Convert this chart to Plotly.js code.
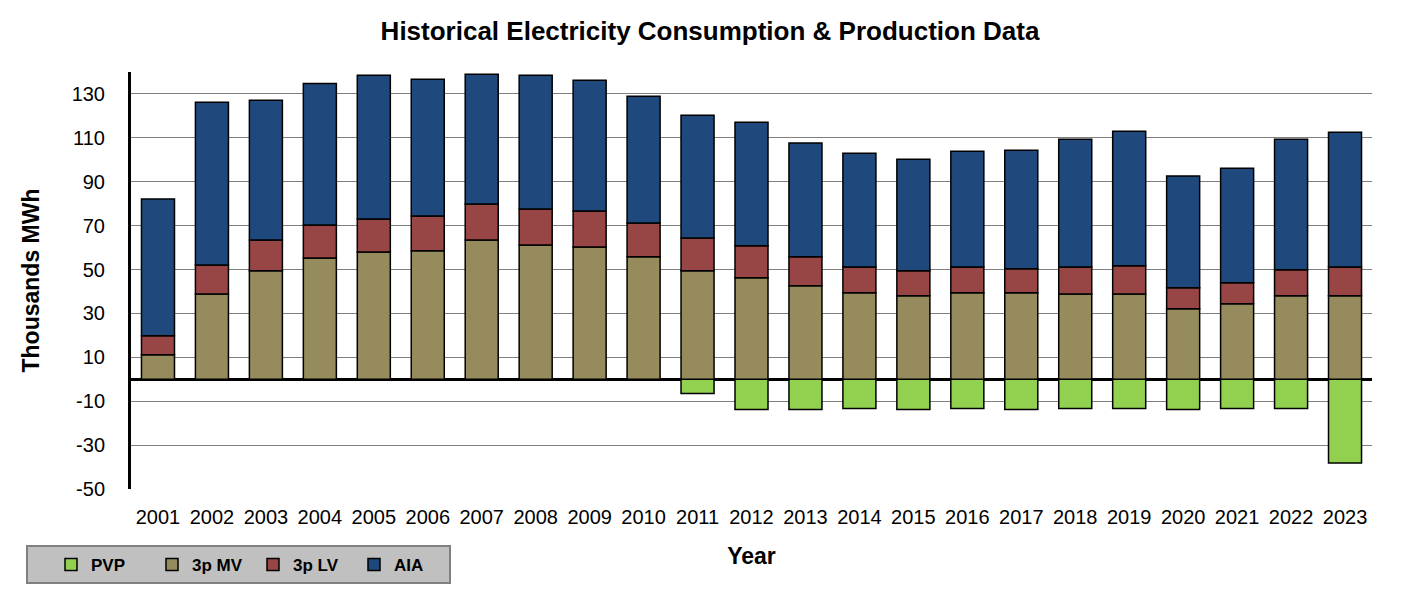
<!DOCTYPE html>
<html>
<head>
<meta charset="utf-8">
<script src="https://cdn.plot.ly/plotly-3.0.1.min.js"></script>
<style>html,body{margin:0;padding:0;background:#fff;}#chart{width:1420px;height:596px;}</style>
</head>
<body>
<div id="chart"></div>
<script>
const years = ["2001","2002","2003","2004","2005","2006","2007","2008","2009","2010","2011","2012","2013","2014","2015","2016","2017","2018","2019","2020","2021","2022","2023"];
const pvp = [null,null,null,null,null,null,null,null,null,null,-6.5,-13.8,-13.8,-13.3,-13.8,-13.3,-13.8,-13.3,-13.3,-13.8,-13.3,-13.3,-38.2];
const mv3p = [11.2,38.9,49.4,55.3,58.0,58.5,63.5,61.2,60.3,55.8,49.4,46.2,42.6,39.4,38.0,39.4,39.4,38.9,38.9,32.1,34.4,38.0,38.0];
const lv3p = [8.6,13.2,14.1,15.0,15.0,15.9,16.4,16.4,16.4,15.4,15.0,14.6,13.2,11.8,11.4,11.8,10.9,12.3,12.8,9.6,9.6,11.9,13.2];
const aia = [62.3,74.1,63.6,64.5,65.5,62.3,59.1,60.9,59.5,57.8,55.9,56.3,51.8,51.8,50.9,52.7,54.1,58.2,61.3,50.9,52.2,59.5,61.4];
const yTicks = [-50,-30,-10,10,30,50,70,90,110,130];

const line = {color:'#000000', width:1.5};
function bar(name, y, color){
  return {type:'bar', name:name, x:years, y:y, marker:{color:color, line:line}};
}
const data = [
  bar('PVP', pvp, '#92d050'),
  bar('3p MV', mv3p, '#958b5c'),
  bar('3p LV', lv3p, '#984545'),
  bar('AIA', aia, '#1f497d')
];
const L=131, R=48, T=72, B=107, W=1420, H=596;
const pw = W-L-R, ph = H-T-B;
function px(x){return (x-L)/pw;}
function py(y){return (H-B-y)/ph;}
const layout = {
  width:W, height:H,
  margin:{l:L, r:R, t:T, b:B, pad:0},
  paper_bgcolor:'#ffffff', plot_bgcolor:'#ffffff',
  barmode:'relative', bargap:0.388,
  font:{family:'"Liberation Sans", Arial, sans-serif', color:'#000000', size:20},
  title:{text:'Historical Electricity Consumption &amp; Production Data', font:{family:'"Liberation Sans", Arial, sans-serif', size:26, color:'#000', weight:'bold'}, x:0.5, xref:'container', xanchor:'center', y:1-31/H, yref:'container', yanchor:'middle'},
  xaxis:{type:'category', showgrid:false, showline:false, zeroline:false, ticks:'', ticklabelstandoff:14,
    tickfont:{size:20, color:'#000'},
    title:{text:'Year', font:{size:23, weight:'bold', color:'#000'}, standoff:20}},
  yaxis:{range:[-50,140], tickvals:yTicks, ticktext:yTicks.map(String), showgrid:true, gridcolor:'#808080', gridwidth:1,
    zeroline:true, zerolinecolor:'#000000', zerolinewidth:3, showline:true, linecolor:'#000000', linewidth:3,
    ticks:'', ticklabelstandoff:19, tickfont:{size:20, color:'#000'},
    title:{text:'Thousands MWh', font:{size:23, weight:'bold', color:'#000'}, standoff:26}},
  showlegend:true,
  legend:{orientation:'h', x:px(51), xanchor:'left', y:py(565), yanchor:'middle', bgcolor:'rgba(0,0,0,0)',
    font:{size:17, weight:'bold', color:'#000'}, itemwidth:30, entrywidth:56, entrywidthmode:'pixels', traceorder:'normal'},
  shapes:[{type:'rect', xref:'paper', yref:'paper', x0:px(27), x1:px(450), y0:py(546), y1:py(583),
    fillcolor:'#c0c0c0', line:{color:'#808080', width:2}, layer:'below'}]
};
Plotly.newPlot('chart', data, layout, {displayModeBar:false, staticPlot:true});
</script>
</body>
</html>
